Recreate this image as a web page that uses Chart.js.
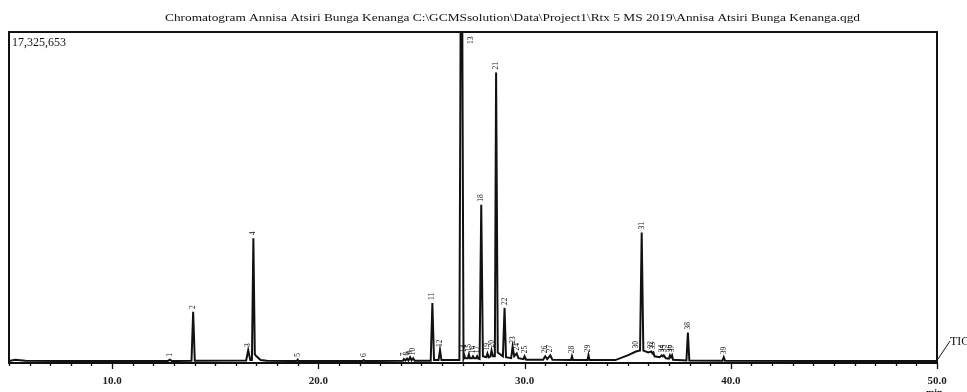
<!DOCTYPE html>
<html><head><meta charset="utf-8">
<script src="https://cdn.jsdelivr.net/npm/chart.js@4/dist/chart.umd.min.js"></script>
<style>html,body{margin:0;padding:0;background:#fff;overflow:hidden}canvas{display:block}</style>
</head><body>
<canvas id="c" width="967" height="392"></canvas>
<script>
// Chromatogram trace: retention time (min) and intensity (counts)
const traceTime = [5.0,5.3,5.8,8.0,12.7,12.8,12.9,13.85,13.93,14.01,16.5,16.6,16.7,16.78,16.85,16.92,17.0,17.2,17.5,
 18.95,19.0,19.05,22.15,22.2,22.25,24.1,24.15,24.22,24.3,24.37,24.45,24.52,24.6,24.67,25.45,25.53,25.61,25.83,25.9,25.97,
 26.84,26.9,26.98,27.04,27.08,27.12,27.25,27.3,27.35,27.45,27.5,27.55,27.65,27.7,27.75,27.82,27.9,27.98,28.15,28.2,28.27,28.35,28.4,28.47,
 28.56,28.62,28.7,28.95,29.03,29.1,29.35,29.42,29.5,29.62,29.7,29.95,30.0,30.08,30.9,31.0,31.1,31.25,31.35,32.25,32.3,32.35,
 33.05,33.1,33.15,34.4,35.0,35.4,35.6,35.68,35.76,36.0,36.15,36.2,36.25,36.3,36.55,36.65,36.7,36.75,36.85,37.0,37.05,37.1,37.15,37.2,
 37.85,37.92,37.99,39.6,39.66,39.72,45.0,50.0];
const traceCounts = [50000,120000,60000,50000,50000,120000,50000,60000,2630000,60000,80000,630000,100000,100000,6500000,400000,300000,100000,60000,
 50000,120000,50000,50000,100000,50000,60000,150000,80000,180000,80000,250000,90000,200000,70000,70000,3100000,100000,100000,630000,100000,
 100000,18000000,18000000,200000,350000,200000,200000,400000,200000,200000,300000,200000,200000,300000,180000,150000,8250000,300000,250000,450000,250000,300000,600000,300000,
 300000,15200000,500000,300000,2840000,250000,200000,800000,300000,450000,200000,150000,300000,120000,120000,300000,150000,350000,120000,100000,300000,100000,
 100000,350000,100000,100000,350000,550000,600000,6800000,600000,500000,550000,450000,500000,300000,250000,350000,300000,350000,200000,180000,350000,250000,350000,120000,
 80000,1550000,80000,70000,250000,60000,50000,50000];

// Peak annotations
const peakTimes  = [12.8,13.93,16.6,16.85,19.0,22.2,24.15,24.3,24.45,24.6,25.53,25.9,26.94,27.08,27.3,27.5,27.7,27.9,28.2,28.4,28.62,29.03,
 29.42,29.62,30.0,31.0,31.25,32.3,33.1,35.4,35.68,36.15,36.25,36.65,36.75,37.05,37.15,37.92,39.66];
const peakCounts = [120000,2630000,630000,6500000,120000,100000,150000,180000,250000,200000,3100000,630000,18000000,350000,400000,300000,300000,8250000,450000,600000,15200000,2840000,
 800000,450000,300000,300000,350000,300000,350000,550000,6800000,550000,500000,350000,350000,350000,350000,1550000,250000];
const peakLabels = ["1","2","3","4","5","6","7","8","9","10","11","12","13","14","15","16","17","18","19","20","21","22",
 "23","24","25","26","27","28","29","30","31","32","33","34","35","36","37","38","39"];

const xMin = 5, xMax = 50;
const yMax = 17325653;
const majorTicks = [10,20,30,40,50];
const titleText = "Chromatogram Annisa Atsiri Bunga Kenanga C:\\GCMSsolution\\Data\\Project1\\Rtx 5 MS 2019\\Annisa Atsiri Bunga Kenanga.qgd";
const maxLabel = "17,325,653";

const SERIF = '"Liberation Serif","DejaVu Serif",serif';

const decor = {
  id: 'decor',
  afterDatasetsDraw(chart) {
    const ctx = chart.ctx, a = chart.chartArea, xs = chart.scales.x, ys = chart.scales.y;
    ctx.save();
    // frame
    ctx.strokeStyle = '#111'; ctx.lineWidth = 2;
    ctx.beginPath();
    ctx.moveTo(a.left, a.bottom + 1); ctx.lineTo(a.left, a.top); ctx.lineTo(a.right, a.top); ctx.lineTo(a.right, a.bottom + 1);
    ctx.stroke();
    ctx.beginPath(); ctx.moveTo(a.left - 1, a.bottom + 1); ctx.lineTo(a.right + 1, a.bottom + 1); ctx.stroke();
    // ticks
    ctx.lineWidth = 1.3;
    for (let t = xMin; t <= xMax; t++) {
      const px = Math.round(xs.getPixelForValue(t)) + 0.5;
      const len = majorTicks.includes(t) ? 6 : 3;
      ctx.beginPath(); ctx.moveTo(px, a.bottom + 1); ctx.lineTo(px, a.bottom + 1 + len); ctx.stroke();
    }
    // title
    ctx.fillStyle = '#111';
    ctx.font = '11px ' + SERIF;
    ctx.textBaseline = 'alphabetic'; ctx.textAlign = 'left';
    const tw = ctx.measureText(titleText).width;
    const target = 695;
    ctx.save();
    ctx.translate(165, 21);
    ctx.scale(target / tw, 1);
    ctx.fillText(titleText, 0, 0);
    ctx.restore();
    // max label
    ctx.font = '12px ' + SERIF;
    ctx.fillText(maxLabel, a.left + 3, a.top + 14);
    // TIC
    ctx.lineWidth = 1;
    ctx.beginPath(); ctx.moveTo(a.right + 1, a.bottom - 3); ctx.lineTo(a.right + 13, a.bottom - 21); ctx.stroke();
    ctx.font = '12px ' + SERIF;
    ctx.fillText('TIC', a.right + 13, a.bottom - 17);
    ctx.font = 'bold 10px ' + SERIF;
    ctx.fillText('min', a.right - 11, 396);
    // peak labels
    ctx.font = '7.5px ' + SERIF;
    ctx.textAlign = 'left'; ctx.textBaseline = 'middle';
    for (let i = 0; i < peakTimes.length; i++) {
      const px = xs.getPixelForValue(peakTimes[i]);
      let py = ys.getPixelForValue(Math.min(peakCounts[i], yMax)) - 3;
      let ox = 0;
      if (peakCounts[i] >= yMax) { py = a.top + 12; ox = 10; }
      ctx.save();
      ctx.translate(px + ox, py);
      ctx.rotate(-Math.PI / 2);
      ctx.fillText(peakLabels[i], 0, 0);
      ctx.restore();
    }
    ctx.restore();
  }
};

new Chart(document.getElementById('c'), {
  type: 'line',
  data: {
    datasets: [{
      data: traceTime.map((t, i) => ({x: t, y: traceCounts[i]})),
      borderColor: '#111', borderWidth: 2, pointRadius: 0, tension: 0, fill: false
    }]
  },
  options: {
    responsive: false, animation: false, devicePixelRatio: 1,
    layout: {padding: {left: 9, right: 30, top: 32, bottom: 1}},
    plugins: {legend: {display: false}, tooltip: {enabled: false}},
    scales: {
      x: {
        type: 'linear', min: xMin, max: xMax,
        grid: {display: false, tickLength: 8}, border: {display: false},
        afterBuildTicks: (s) => { s.ticks = majorTicks.map(v => ({value: v})); },
        afterFit: (s) => { s.height = 29; },
        ticks: {padding: 5, color: '#222', font: {family: SERIF, size: 11, weight: 'bold'}, maxRotation: 0,
                callback: (v) => Number(v).toFixed(1)}
      },
      y: {min: 0, max: yMax, display: false}
    }
  },
  plugins: [decor]
});
</script>
</body></html>
